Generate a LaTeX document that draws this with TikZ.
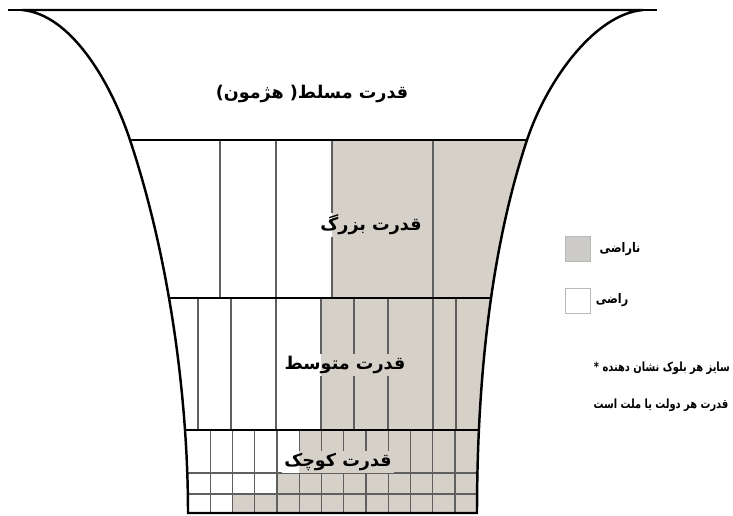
\documentclass[tikz,border=0pt]{standalone}
\usepackage{fontspec}
\newfontfamily\fafont[Script=Arabic]{DejaVu Sans}
\newfontfamily\fakey[Script=Arabic, FakeStretch=0.85]{DejaVu Sans}
\newfontfamily\fanarrow[Script=Arabic, FakeStretch=0.78]{DejaVu Sans}
\TeXXeTstate=1
\definecolor{unhappy}{RGB}{213,209,201}
\definecolor{keygray}{RGB}{204,203,200}
\definecolor{cellline}{RGB}{95,95,95}
\definecolor{keyline}{RGB}{185,185,185}
\newcommand{\fa}[1]{{\fafont\bfseries\beginR #1\endR}}
\newcommand{\keyfont}{\fontsize{7.5}{9}\selectfont\fakey\bfseries}
\newcommand{\notefont}{\fontsize{7.2}{9}\selectfont\fanarrow\bfseries}
\pgfdeclarelayer{blocks}
\pgfdeclarelayer{patch}
\pgfsetlayers{blocks,patch,main}

\begin{document}
\begin{tikzpicture}[x=0.02cm, y=-0.02cm,
    rim/.style={line width=1.4pt, black},
    cell/.style={line width=0.8pt, cellline},
    label/.style={font=\fontsize{10}{12}\selectfont, inner sep=1pt},
    keybox/.style={draw=keyline, line width=0.8pt, minimum size=0.5cm, inner sep=0pt}]

    \useasboundingbox (0,0) rectangle (733,515);

    % funnel
    \path[save path=\funnelpath] (22,10) .. controls (70,14) and (110,80) .. (130,140)
        .. controls (170,260) and (188,400) .. (188,513) -- (477,513)
        .. controls (477,400) and (487,260) .. (527,140)
        .. controls (547,80) and (595,14) .. (643,10) -- cycle;

    \begin{pgfonlayer}{blocks}
    \begin{scope}
        \clip[use path=\funnelpath];
        % unhappy blocks
        \fill[unhappy] (332,140) rectangle (600,298);
        \fill[unhappy] (321,298) rectangle (600,430);
        \fill[unhappy] (299.25,430) rectangle (600,473);
        \fill[unhappy] (277,473) rectangle (600,494);
        \fill[unhappy] (232.5,494) rectangle (600,513);
        % blocks
        \foreach \x in {220,276,332,433}
            \draw[cell] (\x,140) -- (\x,298);
        \foreach \x in {198,231,276,321,354,388,433,456}
            \draw[cell] (\x,298) -- (\x,430);
        \foreach \i in {1,...,12}
            \draw[cell] ({188+\i*22.25},430) -- ++(0,83);
        \draw[cell] (150,473) -- (520,473);
        \draw[cell] (150,494) -- (520,494);
        % bands
        \foreach \y in {140,298,430}
            \draw[rim] (80,\y) -- (580,\y);
    \end{scope}
    \end{pgfonlayer}

    \draw[rim] (8,10) -- (657,10);
    \draw[rim, use path=\funnelpath];

    \coordinate (greatsplit) at (332,140);
    \coordinate (middlesplit) at (321,298);
    \coordinate (smallsplit) at (299.25,430);

    \draw(312,94) node[label] (hegemon) {\fa{قدرت مسلط( هژمون)}};
    \draw(371,225) node[label] (great) {\fa{قدرت بزرگ}};
    \draw(345,365) node[label] (middle) {\fa{قدرت متوسط}};
    \draw(338,462) node[label] (small) {\fa{قدرت کوچک}};

    % keep the block lines off the labels
    \begin{pgfonlayer}{patch}
        \fill[white] (great.south west) rectangle (great.north -| greatsplit);
        \fill[unhappy] (great.south -| greatsplit) rectangle (great.north east);
        \fill[white] (middle.south west) rectangle (middle.north -| middlesplit);
        \fill[unhappy] (middle.south -| middlesplit) rectangle (middle.north east);
        \fill[white] (small.south west) rectangle (small.north -| smallsplit);
        \fill[unhappy] (small.south -| smallsplit) rectangle (small.north east);
    \end{pgfonlayer}

    % key
    \draw(578,249) node[keybox, fill=keygray] (unhappykey) {};
    \draw(578,301) node[keybox, fill=white] (happykey) {};
    \draw(620,249) node[label, font=\keyfont] (unhappytext) {\beginR ناراضی\endR};
    \draw(612,300) node[label, font=\keyfont] (happytext) {\beginR راضی\endR};

    \draw(732,368) node[label, anchor=east, font=\notefont] (noteone) {* \beginR سایز هر بلوک نشان دهنده\endR};
    \draw(661,405) node[label, font=\notefont] (notetwo) {\beginR قدرت هر دولت یا ملت است\endR};

\end{tikzpicture}
\end{document}
